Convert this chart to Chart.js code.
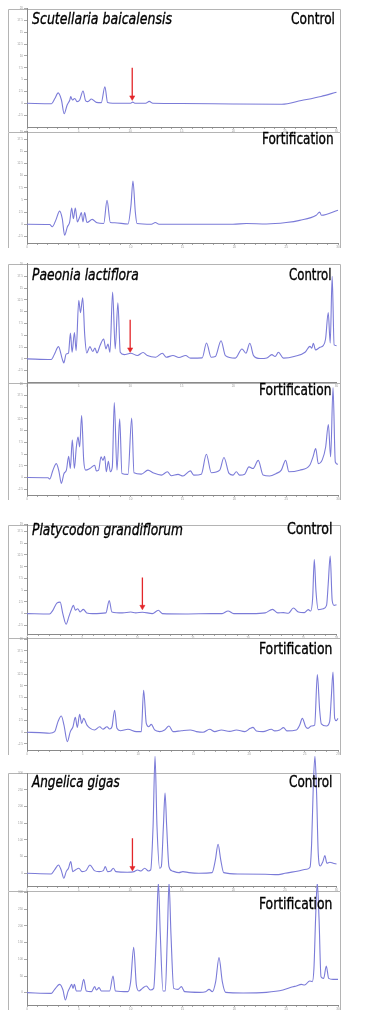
<!DOCTYPE html>
<html><head><meta charset="utf-8">
<script src="https://cdn.jsdelivr.net/npm/chart.js@4.4.1/dist/chart.umd.min.js"></script>
<style>
html,body{margin:0;padding:0;background:#fff;width:366px;height:1022px;overflow:hidden;position:relative;}
canvas{position:absolute;}
.lbl{position:absolute;white-space:nowrap;color:#000;line-height:1;font-size:16px;font-weight:normal;-webkit-text-stroke:0.35px #000;font-family:"Liberation Sans Narrow","DejaVu Sans Condensed","Roboto",sans-serif;transform-origin:0 0;z-index:5;}
.sp{font-style:italic;}
</style></head><body>
<script>
// ---------- DATA (retention time in min, detector response) ----------
const scutControl = [[0,0],[2.38,-0.1],[2.7,1.0],[3.02,2.2],[3.34,0.7],[3.6,-2.2],[3.89,-0.35],[4.15,0.7],[4.24,1.4],[4.4,0.7],[4.63,1.0],[4.85,0.35],[5.11,0.7],[5.43,2.6],[5.69,0.5],[5.9,0.35],[6.24,0.9],[6.72,0.2],[7.2,0.15],[7.55,3.5],[7.81,0.15],[8.3,0],[10.05,0],[10.25,0.25],[10.45,0],[11.5,0],[11.85,0.4],[12.2,0],[15.0,-0.05],[20.0,-0.15],[24.7,-0.2],[26.6,0.6],[28.5,1.45],[30,2.35]];
const scutFort = [[0,0],[2.19,-0.05],[2.44,-0.5],[2.77,0.8],[3.15,2.7],[3.4,1.15],[3.63,-2.25],[3.89,-0.55],[4.12,0.5],[4.31,3.35],[4.47,1.15],[4.66,3.35],[4.86,0.5],[5.08,1.5],[5.24,2.4],[5.4,0.5],[5.56,2.4],[5.79,0.35],[6.3,1.0],[6.75,0.3],[7.4,0.15],[7.72,4.9],[8.04,0.35],[8.46,0.3],[9.74,0.05],[10.03,3.9],[10.22,8.9],[10.45,2.5],[10.61,0.15],[12.0,0],[12.38,0.35],[12.73,0],[19.87,0],[21.16,0.15],[23.1,0.05],[25.0,0.35],[26.3,0.8],[27.9,1.85],[28.23,2.5],[28.4,1.85],[30,2.9]];
const paeoniaControl = [[0,0],[2.35,-0.15],[2.67,1.05],[3.05,2.6],[3.41,0],[3.57,-0.85],[3.8,1.05],[4.02,1.2],[4.21,5.45],[4.37,1.4],[4.6,5.6],[4.76,1.75],[5.02,12.4],[5.18,9.8],[5.4,12.95],[5.6,4.9],[5.79,1.25],[6.1,2.6],[6.37,1.55],[6.59,2.3],[6.78,1.25],[7.1,2.95],[7.43,4.2],[7.65,2.1],[7.85,3.15],[8.04,1.4],[8.3,14.15],[8.55,2.1],[8.81,11.9],[9.04,1.4],[9.42,0.9],[10.06,1.2],[10.7,0.7],[11.25,1.35],[11.67,0.7],[12.48,0.35],[13.12,1.2],[13.5,0.35],[14.15,0.7],[14.73,0.3],[15.37,0.7],[15.85,0.15],[16.98,0.2],[17.4,3.35],[17.85,0.35],[18.26,0.5],[18.81,3.85],[19.23,0.7],[20.19,0.15],[20.84,2.1],[21.22,1.2],[21.6,3.3],[21.96,0.7],[22.6,0.07],[23.25,0.2],[23.73,0.9],[24.05,0.5],[24.37,1.4],[24.86,0.15],[25.98,0.55],[26.95,1.4],[27.43,2.65],[27.6,2.25],[27.75,3.3],[27.97,1.9],[28.39,2.45],[28.71,2.8],[28.94,4.2],[29.2,9.8],[29.39,3.35],[29.58,17.5],[29.77,2.95],[30,2.8]];
const paeoniaFort = [[0,0],[2.03,-0.07],[2.19,-0.35],[2.5,1.55],[2.83,2.95],[3.09,1.2],[3.31,-1.27],[3.57,0.85],[3.8,1.55],[4.02,4.5],[4.18,1.9],[4.37,8.05],[4.57,1.9],[4.76,6.5],[4.92,8.6],[5.08,6.5],[5.27,13.2],[5.47,3.65],[5.66,1.55],[6.05,1.9],[6.53,2.6],[6.69,1.4],[6.91,1.55],[7.14,4.4],[7.33,3.65],[7.49,4.5],[7.65,1.2],[7.85,3.45],[8.04,1.2],[8.23,2.25],[8.42,16.0],[8.68,1.55],[8.94,12.5],[9.16,0.85],[9.74,0.65],[10.1,12.7],[10.32,1.0],[11.03,0.7],[11.67,1.55],[12.15,1.0],[12.96,0.5],[13.54,1.2],[13.92,0.35],[14.57,0.65],[15.05,0.3],[15.76,1.4],[16.08,0.5],[16.82,0.7],[17.3,4.95],[17.78,1.0],[18.59,1.55],[19.0,4.25],[19.49,0.85],[19.87,0.5],[20.19,1.2],[20.51,0.5],[21.0,0.7],[21.41,2.25],[21.8,1.9],[22.31,3.65],[22.77,0.5],[23.41,0.3],[24.05,0.85],[24.53,1.55],[24.95,3.65],[25.27,1.2],[26.3,1.55],[27.27,2.6],[27.59,4.4],[27.85,6.15],[28.1,2.95],[28.49,3.8],[28.81,6.5],[29.07,11.3],[29.29,4.4],[29.52,19.2],[29.74,3.3],[30,2.8]];
const platyControl = [[0,0],[2.04,-0.07],[2.34,0.7],[2.7,2.25],[3.0,2.45],[3.24,0],[3.54,-2.25],[3.78,-0.7],[3.99,0.7],[4.2,1.75],[4.38,0.7],[4.59,1.05],[4.8,0.35],[5.1,0.9],[5.4,0.15],[5.94,0],[7.14,0.15],[7.44,2.8],[7.68,0.35],[8.64,0.15],[9.39,0.35],[9.84,0.15],[10.44,0.3],[11.34,0],[11.88,0.7],[12.24,0],[14.35,-0.07],[16.75,0],[17.65,0],[18.19,0.55],[18.7,0],[20.35,0],[21.55,0.15],[22.21,0.9],[22.69,0.15],[23.2,0.2],[23.65,0.07],[24.1,1.2],[24.55,0.35],[25.09,0.2],[25.45,0.85],[25.66,0.55],[25.84,3.15],[25.99,11.55],[26.14,4.9],[26.35,0.85],[26.8,1.05],[27.1,1.75],[27.25,6.3],[27.43,12.25],[27.61,2.8],[27.79,1.75],[28,1.9]];
const platyFort = [[0,0],[1.14,-0.07],[2.04,-0.2],[2.49,0.15],[2.79,2.3],[3.09,3.5],[3.33,1.55],[3.63,-2.0],[3.9,0.15],[4.14,1.2],[4.35,3.2],[4.53,1.05],[4.74,3.85],[4.92,1.9],[5.1,3.0],[5.4,1.55],[5.7,0.85],[6.09,0.5],[6.54,1.2],[6.84,0.65],[7.2,1.2],[7.44,0.7],[7.65,1.2],[7.89,4.75],[8.1,0.85],[8.4,0.35],[9.09,0.65],[9.84,0.15],[10.29,0.15],[10.5,9.05],[10.74,1.9],[10.95,1.2],[11.19,1.7],[11.49,0.5],[11.94,0.15],[12.39,0.5],[12.78,1.35],[13.14,0.15],[13.9,0.35],[14.7,0.5],[15.25,0.15],[15.85,0],[16.45,0.65],[16.9,0.15],[17.5,0.5],[18.25,0.2],[18.85,0.5],[19.6,0.15],[20.1,0.85],[20.35,1.05],[20.65,0.3],[21.25,0.15],[22.0,0.65],[22.3,0.3],[22.75,0.5],[23.1,1.0],[23.4,0.3],[24.25,0.5],[24.55,1.55],[24.79,3.0],[25.09,1.2],[25.3,0.85],[25.6,1.35],[25.9,1.55],[26.14,12.4],[26.35,4.75],[26.5,1.8],[26.95,1.35],[27.25,2.3],[27.4,7.6],[27.55,12.95],[27.7,3.0],[27.85,2.5],[28,3.0]];
const angelicaControl = [[0,0],[2.35,-2],[2.67,10],[3.05,25],[3.31,10],[3.57,-15],[3.8,5],[4.02,15],[4.24,35],[4.44,5],[4.69,10],[5.02,15],[5.34,5],[5.72,8],[6.1,25],[6.53,8],[7.0,5],[7.4,8],[7.59,20],[7.81,5],[8.13,7],[8.36,15],[8.62,5],[9.74,3],[10.39,5],[10.71,10],[11.03,7],[11.41,15],[11.77,7],[11.99,10],[12.22,140],[12.41,350],[12.6,140],[12.86,15],[13.02,20],[13.22,140],[13.38,240],[13.54,140],[13.76,20],[14.08,7],[14.73,2],[15.11,5],[15.69,2],[16.66,0],[17.94,2],[18.26,40],[18.52,87],[18.78,40],[19.07,2],[20.51,-2],[23.09,-3],[24.37,-4],[25.0,0],[26.3,7],[27.1,12],[27.43,18],[27.59,90],[27.75,260],[27.91,350],[28.07,240],[28.23,60],[28.42,22],[28.68,35],[28.87,53],[29.07,30],[29.36,33],[29.68,30],[30,28]];
const angelicaFort = [[0,0],[2.35,-2],[2.67,10],[3.15,25],[3.47,8],[3.7,-22],[3.95,3],[4.18,18],[4.31,25],[4.44,13],[4.57,25],[4.76,5],[5.18,5],[5.47,40],[5.72,5],[6.21,3],[6.53,18],[6.69,8],[6.95,15],[7.17,5],[7.97,5],[8.3,50],[8.52,5],[9.74,3],[10.0,33],[10.29,136],[10.55,23],[10.8,5],[11.13,13],[11.51,20],[11.9,8],[12.22,13],[12.48,173],[12.67,330],[12.86,173],[13.12,5],[13.34,5],[13.54,173],[13.7,330],[13.89,173],[14.15,13],[14.57,10],[14.89,18],[15.21,3],[16.66,1],[17.23,3],[17.56,10],[17.88,3],[18.2,33],[18.52,105],[18.84,33],[19.16,1],[20.84,-1],[23.09,1],[24.69,8],[25.66,18],[25.98,20],[26.46,25],[26.78,23],[27.27,35],[27.52,33],[27.68,73],[27.84,223],[28.0,330],[28.17,223],[28.36,48],[28.62,43],[28.87,80],[29.1,43],[29.52,40],[30,40]];

// red arrows (marking the target peak position) [time, value]
const scutArrow = [[10.2,7.5],[10.2,1.25]];
const paeoniaArrow = [[10.0,8.26],[10.0,2.0]];
const platyArrow = [[10.44,7.7],[10.44,1.45]];
const angelicaArrow = [[10.22,105],[10.22,16]];

// tick labels
const xLabels30 = [0,5,10,15,20,25,30];
const xLabels28 = [0,5,10,15,20,25,28];
const yTicksSmall = [-2.5,0,2.5,5,7.5,10,12.5,15,17.5,20];
const yTicksSmall19 = [-2.5,0,2.5,5,7.5,10,12.5,15,17.5,19];
const yTicksLarge = [0,50,100,150,200,250,300];

// panel texts
const species = ['Scutellaria baicalensis','Paeonia lactiflora','Platycodon grandiflorum','Angelica gigas'];
const conditions = ['Control','Fortification'];

// ---------- LAYOUT ----------
const LINE = '#7b7bd8', RED = '#e3262a', FRAME = '#b4b4b4', AXIS = '#8a8a8a', TICKTXT = '#9a9a9a';
const CAN_LEFT = 8, CAN_W = 333, YAX_W = 19, PAD_R = 3, XAX_H = 5;
const panels = [
  {data:scutControl, arrow:scutArrow, top:7, bottom:127, yMin:-5, yMax:20, yTicks:yTicksSmall, xMax:30, xLabels:xLabels30, padTop:3},
  {data:scutFort, arrow:null, top:131, bottom:243, yMin:-3.85, yMax:19.0, yTicks:yTicksSmall19, xMax:30, xLabels:xLabels30, padTop:2},
  {data:paeoniaControl, arrow:paeoniaArrow, top:262, bottom:381.5, yMin:-4.9, yMax:20.2, yTicks:yTicksSmall, xMax:30, xLabels:xLabels30, padTop:3},
  {data:paeoniaFort, arrow:null, top:382, bottom:495, yMin:-3.75, yMax:20.2, yTicks:yTicksSmall, xMax:30, xLabels:xLabels30, padTop:2},
  {data:platyControl, arrow:platyArrow, top:523, bottom:634, yMin:-4.35, yMax:19.0, yTicks:yTicksSmall19, xMax:28, xLabels:xLabels28, padTop:3},
  {data:platyFort, arrow:null, top:637, bottom:750, yMin:-3.8, yMax:20.3, yTicks:yTicksSmall, xMax:28, xLabels:xLabels28, padTop:2},
  {data:angelicaControl, arrow:angelicaArrow, top:773, bottom:886, yMin:-38, yMax:300, yTicks:yTicksLarge, xMax:30, xLabels:xLabels30, padTop:17},
  {data:angelicaFort, arrow:null, top:891, bottom:1005, yMin:-37, yMax:305, yTicks:yTicksLarge, xMax:30, xLabels:xLabels30, padTop:7}
];
const labelPos = [
  {text:species[0], cls:'sp', left:32, cap:13.3, w:140},
  {text:conditions[0], cls:'', left:290.7, cap:13.3, w:44},
  {text:conditions[1], cls:'', left:261.7, cap:133.3, w:71.6},
  {text:species[1], cls:'sp', left:31.7, cap:269, w:106.7},
  {text:conditions[0], cls:'', left:289.3, cap:269, w:42.4},
  {text:conditions[1], cls:'', left:259.3, cap:384, w:72.4},
  {text:species[2], cls:'sp', left:31.7, cap:523.5, w:151},
  {text:conditions[0], cls:'', left:287.3, cap:523, w:45.4},
  {text:conditions[1], cls:'', left:259.3, cap:643.3, w:73.4},
  {text:species[3], cls:'sp', left:32.3, cap:776, w:87.7},
  {text:conditions[0], cls:'', left:289.3, cap:776, w:43.4},
  {text:conditions[1], cls:'', left:259.3, cap:898.3, w:73.4}
];

const framePlugin = {
  id:'frame',
  beforeDraw(chart){
    const {ctx, chartArea, width, height} = chart;
    ctx.save();
    ctx.strokeStyle = FRAME; ctx.lineWidth = 1;
    ctx.beginPath();
    const t = Math.round(chartArea.top) + 0.5;
    ctx.moveTo(0.5, height); ctx.lineTo(0.5, t); ctx.lineTo(width - 0.5, t); ctx.lineTo(width - 0.5, height);
    ctx.stroke();
    ctx.restore();
  }
};

function toXY(arr){ return arr.map(p => ({x:p[0], y:p[1]})); }

panels.forEach(p => {
  const c = document.createElement('canvas');
  const h = (p.bottom - p.top) + p.padTop + XAX_H;
  c.width = CAN_W; c.height = Math.round(h);
  c.style.left = CAN_LEFT + 'px';
  c.style.top = (p.top - p.padTop) + 'px';
  c.style.width = CAN_W + 'px'; c.style.height = Math.round(h) + 'px';
  document.body.appendChild(c);
  const datasets = [{
    data: toXY(p.data), borderColor: LINE, borderWidth: 1.1, pointRadius: 0,
    cubicInterpolationMode: 'monotone', tension: 0.4, clip: false
  }];
  if (p.arrow) {
    datasets.push({
      data: toXY(p.arrow), borderColor: RED, backgroundColor: RED, borderWidth: 1.3,
      pointRadius: [0, 3], pointStyle: 'triangle', pointRotation: 180,
      pointBackgroundColor: RED, pointBorderColor: RED, pointBorderWidth: 0.5, tension: 0, clip: false
    });
  }
  new Chart(c, {
    type: 'line',
    data: { datasets },
    plugins: [framePlugin],
    options: {
      responsive: false, animation: false, devicePixelRatio: 1,
      layout: { padding: { top: p.padTop, right: PAD_R, left: 0, bottom: 0 } },
      plugins: { legend: { display: false }, tooltip: { enabled: false }, title: { display: false } },
      scales: {
        x: {
          type: 'linear', min: 0, max: p.xMax,
          afterBuildTicks: s => { const t = []; for (let v = 0; v <= p.xMax + 1e-9; v += 1) t.push({value: v}); s.ticks = t; },
          afterFit: s => { s.height = XAX_H; },
          ticks: { autoSkip: false, maxRotation: 0, minRotation: 0, padding: 0, color: TICKTXT, font: { size: 3 },
                   callback: v => p.xLabels.includes(v) ? String(v) : '' },
          grid: { drawOnChartArea: false, tickLength: 2, color: '#aaaaaa' },
          border: { color: AXIS, width: 1 }
        },
        y: {
          type: 'linear', min: p.yMin, max: p.yMax,
          afterBuildTicks: s => { s.ticks = p.yTicks.map(v => ({value: v})); },
          afterFit: s => { s.width = YAX_W; },
          ticks: { autoSkip: false, padding: 1, color: TICKTXT, font: { size: 3 }, callback: v => String(v) },
          grid: { drawOnChartArea: false, tickLength: 3, color: '#aaaaaa' },
          border: { color: AXIS, width: 1 }
        }
      }
    }
  });
});

labelPos.forEach(l => {
  const d = document.createElement('div');
  d.className = 'lbl ' + l.cls;
  d.textContent = l.text;
  d.style.left = l.left + 'px';
  d.style.top = (l.cap - 2) + 'px';
  document.body.appendChild(d);
  const w = d.getBoundingClientRect().width;
  if (w > 0) d.style.transform = 'scaleX(' + (l.w / w) + ')';
});
</script>
</body></html>
